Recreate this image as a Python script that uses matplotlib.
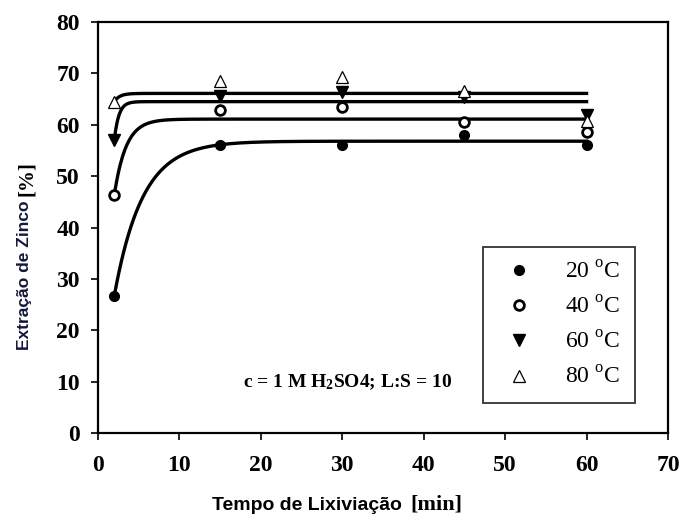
import numpy as np
import matplotlib
matplotlib.use("Agg")
import matplotlib.pyplot as plt
from matplotlib.lines import Line2D

plt.rcParams["mathtext.fontset"] = "custom"
plt.rcParams["mathtext.rm"] = "Liberation Serif"
plt.rcParams["mathtext.bf"] = "Liberation Serif:bold"

# leaching time [min] and zinc extraction [%] per temperature
time_min = [2, 15, 30, 45, 60]
ext_20 = [26.7, 56.0, 56.0, 58.0, 56.0]
ext_40 = [46.3, 62.8, 63.5, 60.5, 58.6]
ext_60 = [57.0, 65.6, 66.3, 65.4, 61.9]
ext_80 = [64.5, 68.5, 69.3, 66.6, 60.7]
temps = ["20", "40", "60", "80"]

# fitted curves: plateau value and rate
plateau = [56.8, 61.1, 64.5, 66.1]
rate = [0.29, 0.70, 1.8, 1.5]

SERIF = "Liberation Serif"
SANS = "Liberation Sans"
W, H = 683, 525

fig = plt.figure(figsize=(6.83, 5.25), dpi=100)
ax = fig.add_axes([98 / W, 1 - 433 / H, 570 / W, 411 / H])

styles = [
    dict(marker="o", ms=7, mfc="black", mec="black", mew=1),
    dict(marker="o", ms=7, mfc="white", mec="black", mew=2),
    dict(marker="v", ms=8, mfc="black", mec="black", mew=1),
    dict(marker="^", ms=8, mfc="white", mec="black", mew=0.9),
]
series = [ext_20, ext_40, ext_60, ext_80]

tt = np.linspace(time_min[0], time_min[-1], 400)
for ys, p, k in zip(series, plateau, rate):
    fit = p - (p - ys[0]) * np.exp(-k * (tt - time_min[0]))
    ax.plot(tt, fit, color="black", lw=2.4, zorder=2)

handles = []
for ys, st, t in zip(series, styles, temps):
    ax.plot(time_min, ys, ls="none", zorder=3, **st)
    handles.append(Line2D([], [], ls="none", **st))

ax.set_xlim(0, 70)
ax.set_ylim(0, 80)
ax.set_xticks(range(0, 71, 10))
ax.set_yticks(range(0, 81, 10))
ax.tick_params(axis="both", direction="out", length=5, width=1.2, top=False, right=False)
ax.tick_params(axis="x", pad=11)
ax.tick_params(axis="y", pad=8)
for lab in ax.get_xticklabels() + ax.get_yticklabels():
    lab.set_fontfamily(SERIF)
    lab.set_fontweight("bold")
    lab.set_fontsize(17)
for s in ax.spines.values():
    s.set_linewidth(1.6)

ax.text(17.8, 9.9, r"c = 1 M $\mathbf{H_2}$SO4; L:S = 10", family=SERIF,
        weight="bold", fontsize=14, va="center", ha="left")

leg = ax.legend(handles, [r"%s $^{\rm o}$C" % t for t in temps],
                loc="lower left", bbox_to_anchor=(0.675, 0.073), frameon=True,
                fancybox=False, edgecolor="black", handletextpad=1.0,
                labelspacing=0.55, borderpad=0.6, handlelength=1.9,
                borderaxespad=0, prop={"family": SERIF, "size": 17})
leg.get_frame().set_linewidth(1.3)

# axis labels mix a bold sans part with a bold serif unit
ylab_col = "#14183a"
t1 = fig.text(25 / W, 1 - 350 / H, "Extração de Zinco", rotation=90, family=SANS,
              weight="bold", fontsize=12.5, color=ylab_col, ha="center", va="bottom")
t2 = fig.text(212 / W, 1 - 506 / H, "Tempo de Lixiviação", family=SANS, weight="bold",
              fontsize=14, ha="left", va="center")
fig.canvas.draw()
r = fig.canvas.get_renderer()
b1 = t1.get_window_extent(r)
b2 = t2.get_window_extent(r)
fig.text(27 / W, (b1.y1 + 5) / H, "[%]", rotation=90, family=SERIF, weight="bold",
         fontsize=15, color="black", ha="center", va="bottom")
fig.text((b2.x1 + 9) / W, 1 - 504 / H, "[min]", family=SERIF, weight="bold",
         fontsize=16, ha="left", va="center")

fig.savefig("out.png", dpi=100)
